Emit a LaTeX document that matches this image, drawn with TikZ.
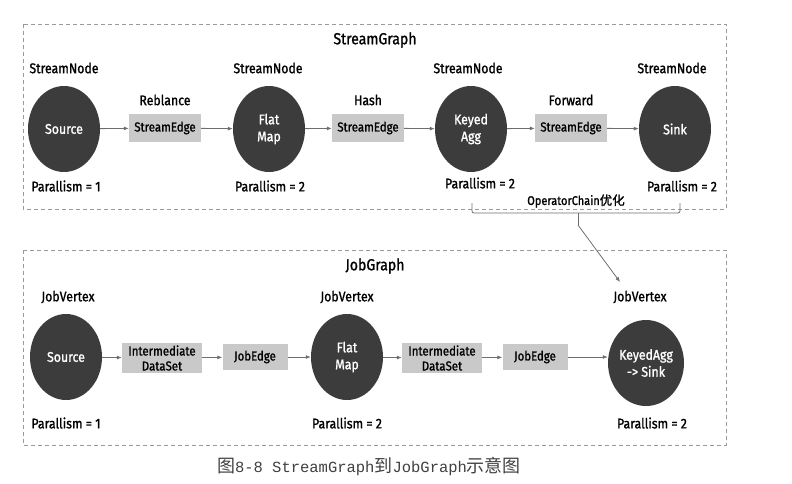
\documentclass[tikz,border=0pt]{standalone}
\usepackage{fontspec}
\setmainfont[FakeStretch=0.88,FakeBold=1.2]{Fira Sans}
\newfontfamily\cjk{Noto Sans CJK SC}
\newfontfamily\cjkb[FakeBold=1.2]{Noto Sans CJK SC}
\newfontfamily\capmono{Liberation Mono}
\usetikzlibrary{arrows.meta,shapes.geometric}
\definecolor{nodefill}{HTML}{3C3C3C}
\definecolor{boxfill}{HTML}{C9C9C9}
\definecolor{linegray}{HTML}{6E6E6E}
\definecolor{dashgray}{HTML}{9A9A9A}
\definecolor{capgray}{HTML}{404040}
\tikzset{
  opnode/.style={ellipse, fill=nodefill, text=white, minimum width=72pt, minimum height=86pt, inner sep=0pt, align=center, font=\fontsize{14}{17}\selectfont},
  ebox/.style={fill=boxfill, minimum width=72pt, minimum height=28pt, inner sep=0pt, align=center, font=\fontsize{13}{15}\selectfont},
  dbox/.style={ebox, minimum width=80pt, minimum height=30pt},
  jbox/.style={ebox, minimum width=65pt, minimum height=26pt},
  lbl/.style={font=\fontsize{14}{16}\selectfont, text=black, inner sep=0pt},
  ttl/.style={font=\fontsize{16}{18}\selectfont, text=black, inner sep=0pt},
  arr/.style={draw=linegray, line width=0.8pt, -{Latex[length=5pt,width=4pt]}},
  dbord/.style={draw=dashgray, line width=0.8pt, dash pattern=on 4pt off 3pt},
}
\begin{document}
\begin{tikzpicture}[x=1pt,y=-1pt]
\useasboundingbox (0,0) rectangle (792,483);
% ---------- StreamGraph ----------
\draw[dbord] (23,24) rectangle (726,209);
\node[ttl] (sgt) at (375,40) {StreamGraph};
\node[opnode] (s1) at (64,129) {Source};
\node[ebox] (e1) at (165,128) {StreamEdge};
\node[opnode] (s2) at (269,129) {Flat\\Map};
\node[ebox] (e2) at (368,128) {StreamEdge};
\node[opnode] (s3) at (471,129) {Keyed\\Agg};
\node[ebox] (e3) at (571,128) {StreamEdge};
\node[opnode] (s4) at (675,129) {Sink};
\node[lbl] (n1) at (64,68) {StreamNode};
\node[lbl] (n2) at (268,68) {StreamNode};
\node[lbl] (n3) at (468,68) {StreamNode};
\node[lbl] (n4) at (672,68) {StreamNode};
\node[lbl] (l1) at (165,100) {Reblance};
\node[lbl] (l2) at (368,100) {Hash};
\node[lbl] (l3) at (571,100) {Forward};
\node[lbl] (p1) at (66,186) {Parallism = 1};
\node[lbl] (p2) at (270,186) {Parallism = 2};
\node[lbl] (p3) at (480,183) {Parallism = 2};
\node[lbl] (p4) at (682,186) {Parallism = 2};
\draw[arr] (s1) -- (e1);
\draw[arr] (e1) -- (s2);
\draw[arr] (s2) -- (e2);
\draw[arr] (e2) -- (s3);
\draw[arr] (s3) -- (e3);
\draw[arr] (e3) -- (s4);
% ---------- brace ----------
\coordinate (bl) at (472,203);
\coordinate (br) at (680,203);
\coordinate (bm) at (578,213);
\coordinate (bt) at (578,225);
\draw[linegray, line width=0.8pt, rounded corners=2pt] (bl) -- (472,213) -- (680,213) -- (br);
\draw[linegray, line width=0.8pt] (bm) -- (bt);
\node[font=\fontsize{12.5}{14}\selectfont, inner sep=0pt] (oc) at (576,201) {OperatorChain{\cjkb 优化}};
\coordinate (at) at (620,282);
\draw[arr] (bt) -- (at);
% ---------- JobGraph ----------
\draw[dbord] (23,250) rectangle (726,445);
\node[ttl] (jgt) at (375,266) {JobGraph};
\node[lbl] (v1) at (68,297) {JobVertex};
\node[lbl] (v2) at (347,297) {JobVertex};
\node[lbl] (v3) at (640,297) {JobVertex};
\node[opnode] (j1) at (66,357) {Source};
\node[dbox] (d1) at (162,358) {Intermediate\\DataSet};
\node[jbox] (je1) at (255,357) {JobEdge};
\node[opnode] (j2) at (347,357) {Flat\\Map};
\node[dbox] (d2) at (442,358) {Intermediate\\DataSet};
\node[jbox] (je2) at (535,357) {JobEdge};
\node[opnode] (j3) at (646,363) {KeyedAgg\\-> Sink};
\node[lbl] (q1) at (66,423) {Parallism = 1};
\node[lbl] (q2) at (347,423) {Parallism = 2};
\node[lbl] (q3) at (652,423) {Parallism = 2};
\draw[arr] (j1) -- (d1);
\draw[arr] (d1) -- (je1);
\draw[arr] (je1) -- (j2);
\draw[arr] (j2) -- (d2);
\draw[arr] (d2) -- (je2);
\draw[arr] (je2.east) -- (je2.east -| j3.west);
% ---------- caption ----------
\node[text=capgray, inner sep=0pt] (cap) at (369,466) {{\cjk\fontsize{18}{20}\selectfont 图}{\capmono\fontsize{15.5}{20}\selectfont 8-8 StreamGraph}{\cjk\fontsize{18}{20}\selectfont 到}{\capmono\fontsize{15.5}{20}\selectfont JobGraph}{\cjk\fontsize{18}{20}\selectfont 示意图}};
\end{tikzpicture}
\end{document}
